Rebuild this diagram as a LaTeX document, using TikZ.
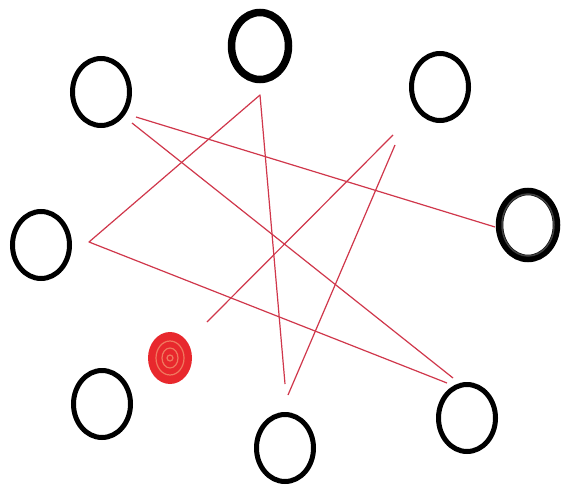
\documentclass[tikz,border=0pt]{standalone}
\usetikzlibrary{shapes.geometric}
\definecolor{redline}{RGB}{208,55,75}
\definecolor{blobred}{RGB}{232,40,45}
\definecolor{blobring}{RGB}{240,120,95}
\begin{document}
\begin{tikzpicture}[x=1pt,y=-1pt,
  ring/.style={draw=black, ellipse, line width=5pt, minimum width=57pt, minimum height=67pt, inner sep=0pt},
  thickring/.style={ring, line width=7.5pt},
  redl/.style={draw=redline, line width=1.2pt, line join=round}]
\useasboundingbox (0,0) rectangle (561,484);
\fill[white] (0,0) rectangle (561,484);
% circles
\node[ring] (c1) at (101,92) {};
\node[thickring] (c2) at (260,46) {};
\node[ring] (c3) at (440,87) {};
\node[thickring] (c4) at (528,225) {};
\draw[black!75, line width=1.5pt] (c4.center) ellipse [x radius=26pt, y radius=31pt];
\node[ring] (c5) at (41,245) {};
\node[ring] (c6) at (102,404) {};
\node[ring] (c7) at (285,448) {};
\node[ring] (c8) at (467,418) {};
% red blob
\node[ellipse, fill=blobred, minimum width=44pt, minimum height=52pt, inner sep=0pt] (blob) at (170,358) {};
\draw[blobring, line width=1.2pt] (blob.center) ellipse [x radius=14pt, y radius=17pt];
\draw[blobring, line width=1.2pt] (blob.center) ellipse [x radius=8pt, y radius=10pt];
\draw[blobring, line width=1.2pt] (blob.center) circle [radius=3pt];
% red line end points
\coordinate (a1) at (136,117);
\coordinate (a2) at (495,227);
\coordinate (b1) at (132,123);
\coordinate (b2) at (453,378);
\coordinate (apex) at (260,95);
\coordinate (v) at (89,242);
\coordinate (g2) at (447,383);
\coordinate (d2) at (285,384);
\coordinate (e1) at (393,135);
\coordinate (e2) at (207,322);
\coordinate (f1) at (395,145);
\coordinate (f2) at (288,395);
\draw[redl] (a1) -- (a2);
\draw[redl] (b1) -- (b2);
\draw[redl] (g2) -- (v) -- (apex) -- (d2);
\draw[redl] (e1) -- (e2);
\draw[redl] (f1) -- (f2);
\end{tikzpicture}
\end{document}
